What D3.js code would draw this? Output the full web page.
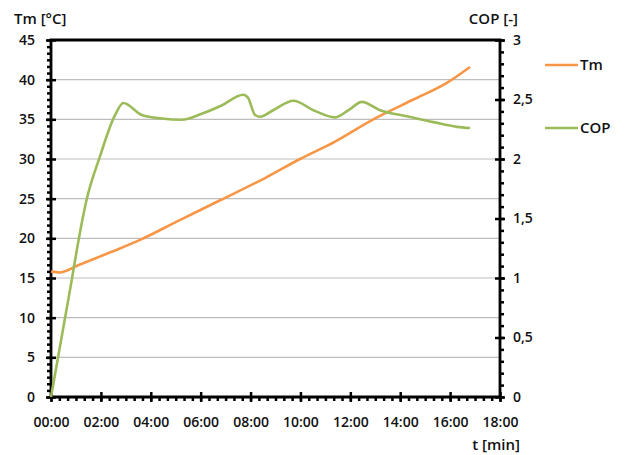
<!DOCTYPE html>
<html>
<head>
<meta charset="utf-8">
<script src="https://cdn.jsdelivr.net/npm/d3@7"></script>
<style>
  body { margin: 0; background: #fff; }
  text { font-family: "Open Sans", sans-serif; font-weight: 600; fill: #111; }
</style>
</head>
<body>
<svg id="chart" width="625" height="455"></svg>
<script>
// time in minutes
var tmTime = [0, 0.36, 1.09, 2.43, 3.57, 5.10, 6.78, 8.58, 9.98, 11.39, 12.92, 14.53, 15.87, 16.8]
var tmValues = [15.8, 15.7, 16.6, 18.3, 19.8, 22.2, 24.8, 27.6, 30.0, 32.2, 35.0, 37.5, 39.6, 41.6]

var copTime = [0, 0.83, 1.03, 1.43, 1.96, 2.57, 2.9, 3.64, 4.44, 5.24, 6.04, 6.84, 7.71, 7.91, 8.18, 8.38, 8.91, 9.72, 10.52, 11.39, 11.99, 12.46, 13.19, 14.26, 15.33, 16.27, 16.8]
var copValues = [0, 0.98, 1.23, 1.66, 2.02, 2.37, 2.47, 2.37, 2.34, 2.33, 2.38, 2.45, 2.54, 2.51, 2.37, 2.355, 2.41, 2.49, 2.41, 2.35, 2.42, 2.48, 2.41, 2.36, 2.31, 2.27, 2.26]

var xTicks = [0, 2, 4, 6, 8, 10, 12, 14, 16, 18]
var tmTicks = [0, 5, 10, 15, 20, 25, 30, 35, 40, 45]
var copTicks = [0, 0.5, 1, 1.5, 2, 2.5, 3]

var svg = d3.select("#chart")
var pL = 51, pR = 500, pT = 40, pB = 397

var x = d3.scaleLinear().domain([0, 18]).range([pL, pR])
var yTm = d3.scaleLinear().domain([0, 45]).range([pB, pT])
var yCop = d3.scaleLinear().domain([0, 3]).range([pB, pT])

// gridlines
svg.append("g")
  .selectAll("line")
  .data(tmTicks.filter(d => d > 0 && d < 45))
  .enter()
  .append("line")
  .attr("x1", pL).attr("x2", pR)
  .attr("y1", d => yTm(d)).attr("y2", d => yTm(d))
  .attr("stroke", "#bdbdbd")
  .attr("stroke-width", 1.2)

var fmt = d => (d < 10 ? "0" : "") + d + ":00"
var commaFmt = d => String(d).replace(".", ",")

// minor ticks
svg.append("g")
  .attr("transform", "translate(" + pL + ",0)")
  .call(d3.axisLeft(yTm).tickValues(d3.range(0, 55).map(d => d * 5 / 6)).tickSize(4).tickFormat(""))
svg.append("g")
  .attr("transform", "translate(" + pR + ",0)")
  .call(d3.axisRight(yCop).tickValues(d3.range(0, 31, 1).map(d => d / 10)).tickSize(4).tickFormat(""))
svg.append("g")
  .attr("transform", "translate(0," + pB + ")")
  .call(d3.axisBottom(x).tickValues(d3.range(0, 55, 1).map(d => d / 3)).tickSize(4).tickFormat(""))

// major axes
var axL = svg.append("g")
  .attr("transform", "translate(" + pL + ",0)")
  .call(d3.axisLeft(yTm).tickValues(tmTicks).tickSize(5).tickPadding(11))
axL.selectAll(".tick line").attr("x1", 5)

var axR = svg.append("g")
  .attr("transform", "translate(" + pR + ",0)")
  .call(d3.axisRight(yCop).tickValues(copTicks).tickSize(5).tickPadding(8).tickFormat(commaFmt))
axR.selectAll(".tick line").attr("x1", -5)

var axB = svg.append("g")
  .attr("transform", "translate(0," + pB + ")")
  .call(d3.axisBottom(x).tickValues(xTicks).tickSize(5).tickPadding(15).tickFormat(fmt))
axB.selectAll(".tick line").attr("y1", -5)

svg.selectAll(".domain").remove()
svg.selectAll(".tick line").attr("stroke", "#000").attr("stroke-width", 2.5)
svg.selectAll(".tick text")
  .style("font-size", "14px")
  .style("font-family", "Open Sans, sans-serif")
  .style("font-weight", "600")
  .attr("fill", "#111")

// frame lines
svg.append("path")
  .attr("d", "M" + pL + "," + pB + "V" + pT + "H" + pR + "V" + pB + "H" + pL + "Z")
  .attr("fill", "none")
  .attr("stroke", "#000")
  .attr("stroke-width", 2.8)

// series
var lineTm = d3.line()
  .x((d, i) => x(tmTime[i]))
  .y(d => yTm(d))
  .curve(d3.curveMonotoneX)
var lineCop = d3.line()
  .x((d, i) => x(copTime[i]))
  .y(d => yCop(d))
  .curve(d3.curveMonotoneX)

svg.append("path")
  .attr("d", lineTm(tmValues))
  .attr("fill", "none")
  .attr("stroke", "#f79646")
  .attr("stroke-width", 2.6)

svg.append("path")
  .attr("d", lineCop(copValues))
  .attr("fill", "none")
  .attr("stroke", "#9bbb59")
  .attr("stroke-width", 2.6)

// axis titles
svg.append("text").attr("x", 14).attr("y", 24).style("font-size", "15px").text("Tm [°C]")
svg.append("text").attr("x", 518).attr("y", 24).attr("text-anchor", "end").style("font-size", "15px").text("COP [-]")
svg.append("text").attr("x", 520).attr("y", 450).attr("text-anchor", "end").style("font-size", "15px").text("t [min]")

// legend
var legend = [["Tm", "#f79646", 65], ["COP", "#9bbb59", 128]]
var lg = svg.append("g").selectAll("g").data(legend).enter().append("g")
lg.append("line")
  .attr("x1", 545).attr("x2", 578)
  .attr("y1", d => d[2]).attr("y2", d => d[2])
  .attr("stroke", d => d[1])
  .attr("stroke-width", 2.6)
lg.append("text")
  .attr("x", 580).attr("y", d => d[2]).attr("dy", "0.35em")
  .style("font-size", "15px")
  .text(d => d[0])
</script>
</body>
</html>
